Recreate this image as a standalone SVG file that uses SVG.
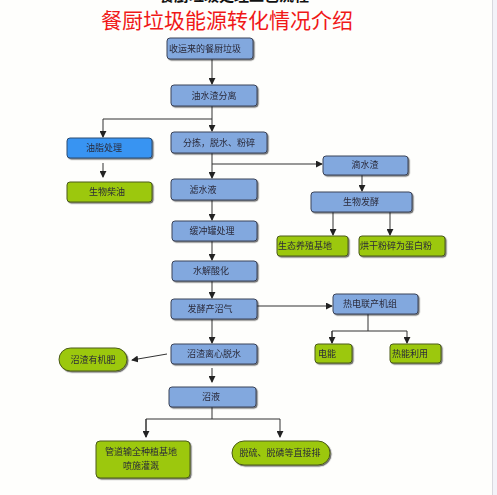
<svg xmlns="http://www.w3.org/2000/svg" width="497" height="495" viewBox="0 0 497 495">
<style>
.b{fill:#82a8de;stroke:#3a4358;stroke-width:1}
.bb{fill:#3794f2;stroke:#2c4a70;stroke-width:1}
.g{fill:#9cc80a;stroke:#4a5a1a;stroke-width:1}
.t{font-family:"Noto Sans CJK SC","Noto Sans CJK JP",sans-serif;font-size:9px;fill:#2a2a3a}
.tc{text-anchor:middle}
.ln{fill:none;stroke:#333;stroke-width:1}
</style>
<defs>
<marker id="ar" viewBox="0 0 8 8" refX="7" refY="4" markerWidth="7" markerHeight="7" orient="auto" markerUnits="userSpaceOnUse">
<path d="M0,0 L8,4 L0,8 Z" fill="#222"/>
</marker>
<filter id="sh" x="-10%" y="-20%" width="130%" height="160%">
<feDropShadow dx="1.2" dy="1.2" stdDeviation="0.6" flood-color="#000" flood-opacity="0.55"/>
</filter>
</defs>
<rect x="0" y="0" width="492" height="495" fill="#fefefc"/>
<rect x="492" y="0" width="5" height="495" fill="#f3f3f9"/>
<line x1="492.5" y1="0" x2="492.5" y2="495" stroke="#d8d8de" stroke-width="1"/>
<text x="234" y="1" text-anchor="middle" font-family="Noto Sans CJK SC,sans-serif" font-size="15" font-weight="bold" fill="#111">餐厨垃圾处理工艺流程</text>
<text x="227" y="28" text-anchor="middle" font-family="Noto Sans CJK SC,sans-serif" font-size="21" fill="#f01818">餐厨垃圾能源转化情况介绍</text>

<g id="connectors">
<line class="ln" x1="212" y1="59" x2="212" y2="84" marker-end="url(#ar)"/>
<polyline class="ln" points="212,106 212,119"/>
<polyline class="ln" points="212,119 103,119 103,137" marker-end="url(#ar)"/>
<line class="ln" x1="212" y1="119" x2="212" y2="131" marker-end="url(#ar)"/>
<line class="ln" x1="103" y1="163" x2="103" y2="177" marker-end="url(#ar)"/>
<line class="ln" x1="212" y1="153" x2="212" y2="178" marker-end="url(#ar)"/>
<polyline class="ln" points="212,164 322,164" marker-end="url(#ar)"/>
<line class="ln" x1="362" y1="175" x2="362" y2="191" marker-end="url(#ar)"/>
<line class="ln" x1="333" y1="212" x2="333" y2="235" marker-end="url(#ar)"/>
<line class="ln" x1="390" y1="212" x2="390" y2="235" marker-end="url(#ar)" stroke="#888"/>
<line class="ln" x1="212" y1="200" x2="212" y2="220" marker-end="url(#ar)"/>
<line class="ln" x1="212" y1="241" x2="212" y2="260" marker-end="url(#ar)"/>
<line class="ln" x1="212" y1="281" x2="212" y2="298" marker-end="url(#ar)"/>
<line class="ln" x1="257" y1="306" x2="332" y2="306" marker-end="url(#ar)"/>
<polyline class="ln" points="368,314 368,331"/>
<polyline class="ln" points="332,343 332,331 407,331 407,343" marker-end="url(#ar)"/>
<line class="ln" x1="332" y1="331" x2="332" y2="343" marker-end="url(#ar)"/>
<line class="ln" x1="212" y1="319" x2="212" y2="343" marker-end="url(#ar)"/>
<line class="ln" x1="167" y1="354" x2="132" y2="360" marker-end="url(#ar)"/>
<line class="ln" x1="212" y1="368" x2="212" y2="382" marker-end="url(#ar)"/>
<polyline class="ln" points="212,407 212,419"/>
<polyline class="ln" points="146,437 146,419 280,419 280,437" marker-end="url(#ar)"/>
<line class="ln" x1="146" y1="419" x2="146" y2="437" marker-end="url(#ar)"/>
</g>

<g id="n1" filter="url(#sh)"><rect class="b" x="167" y="38" width="86" height="21" rx="3"/><text class="t" x="169" y="52">收运来的餐厨垃圾</text></g>
<g id="n2" filter="url(#sh)"><rect class="b" x="171" y="85" width="86" height="21" rx="3"/><text class="t tc" x="214" y="99">油水渣分离</text></g>
<g id="n3" filter="url(#sh)"><rect class="bb" x="67" y="138" width="85" height="20" rx="3"/><text class="t tc" x="104" y="151">油脂处理</text></g>
<g id="n4" filter="url(#sh)"><rect class="b" x="171" y="132" width="96" height="21" rx="3"/><text class="t tc" x="219" y="146">分拣，脱水、粉碎</text></g>
<g id="n5" filter="url(#sh)"><rect class="g" x="67" y="182" width="85" height="20" rx="3"/><text class="t tc" x="107" y="195">生物柴油</text></g>
<g id="n6" filter="url(#sh)"><rect class="b" x="171" y="179" width="86" height="21" rx="3"/><text class="t tc" x="203" y="193">滤水液</text></g>
<g id="n7" filter="url(#sh)"><rect class="b" x="323" y="156" width="85" height="19" rx="3"/><text class="t tc" x="365" y="168">滴水渣</text></g>
<g id="n8" filter="url(#sh)"><rect class="b" x="311" y="192" width="101" height="20" rx="3"/><text class="t tc" x="361" y="205">生物发酵</text></g>
<g id="n9" filter="url(#sh)"><rect class="g" x="277" y="236" width="71" height="20" rx="3"/><text class="t" x="278" y="249">生态养殖基地</text></g>
<g id="n10" filter="url(#sh)"><rect class="g" x="359" y="236" width="86" height="20" rx="3"/><text class="t" x="360" y="249">烘干粉碎为蛋白粉</text></g>
<g id="n11" filter="url(#sh)"><rect class="b" x="172" y="221" width="85" height="20" rx="3"/><text class="t tc" x="212" y="234">缓冲罐处理</text></g>
<g id="n12" filter="url(#sh)"><rect class="b" x="172" y="261" width="85" height="20" rx="3"/><text class="t tc" x="211" y="274">水解酸化</text></g>
<g id="n13" filter="url(#sh)"><rect class="b" x="171" y="299" width="86" height="20" rx="3"/><text class="t tc" x="210" y="312">发酵产沼气</text></g>
<g id="n14" filter="url(#sh)"><rect class="b" x="333" y="294" width="85" height="20" rx="3"/><text class="t" x="343" y="307">热电联产机组</text></g>
<g id="n15" filter="url(#sh)"><rect class="g" x="315" y="344" width="37" height="19" rx="3"/><text class="t" x="318" y="357">电能</text></g>
<g id="n16" filter="url(#sh)"><rect class="g" x="390" y="344" width="51" height="19" rx="3"/><text class="t" x="392" y="357">热能利用</text></g>
<g id="n17" filter="url(#sh)"><rect class="b" x="171" y="344" width="86" height="20" rx="3"/><text class="t tc" x="214" y="357">沼渣离心脱水</text></g>
<g id="n18" filter="url(#sh)"><rect class="g" x="59" y="348" width="68" height="23" rx="11.5"/><text class="t tc" x="93" y="363">沼渣有机肥</text></g>
<g id="n19" filter="url(#sh)"><rect class="b" x="169" y="387" width="87" height="20" rx="3"/><text class="t tc" x="211" y="400">沼液</text></g>
<g id="n20" filter="url(#sh)"><rect class="g" x="96" y="441" width="94" height="37" rx="4"/><text class="t tc" x="141" y="455">管道输全种植基地</text><text class="t tc" x="141" y="469">喷施灌溉</text></g>
<g id="n21" filter="url(#sh)"><rect class="g" x="232" y="441" width="98" height="24" rx="12"/><text class="t tc" x="280" y="456">脱硫、脱磷等直接排</text></g>
</svg>
